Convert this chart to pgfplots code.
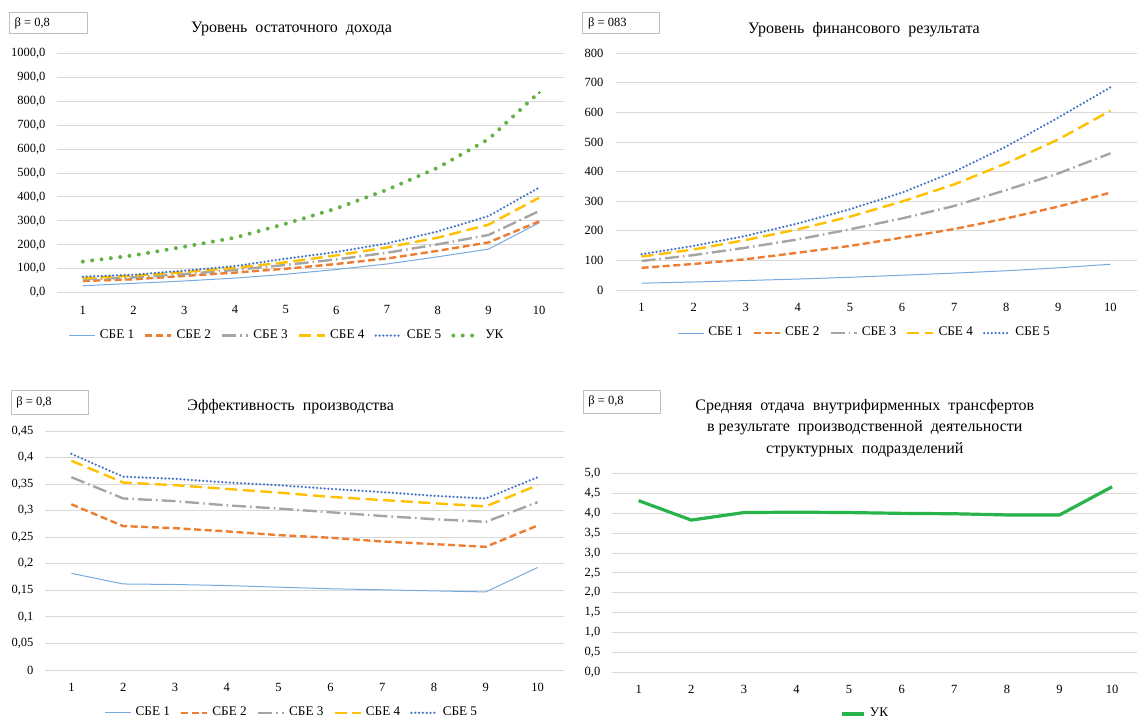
\documentclass[border=0pt]{standalone}
\usepackage{fontspec}
\setmainfont{Liberation Serif}
\usepackage{pgfplots}
\pgfplotsset{compat=1.18}
\definecolor{c1}{RGB}{120,170,225}
\definecolor{c2}{HTML}{ED7D31}
\definecolor{c3}{HTML}{A5A5A5}
\definecolor{c4}{HTML}{FFC000}
\definecolor{c5}{HTML}{4472C4}
\definecolor{cuk}{RGB}{100,178,70}
\definecolor{cuk2}{RGB}{40,180,75}
\definecolor{gridc}{HTML}{D9D9D9}
\definecolor{boxc}{HTML}{BFBFBF}
\newcommand{\sm}{\fontsize{6.25}{7.5}\selectfont}
\newcommand{\lgf}{\fontsize{6.6}{7.5}\selectfont}
\newcommand{\tf}{\fontsize{8}{9.6}\selectfont}
\pgfplotsset{
  base/.style={
    scale only axis,
    anchor=south west,
    xmin=0.5, xmax=10.5,
    xtick={1,2,3,4,5,6,7,8,9,10},
    axis line style={draw=none},
    major tick length=0pt,
    ymajorgrids,
    grid style={gridc, line width=0.5pt},
    tick label style={font=\sm},
    xticklabel style={yshift=-3pt},
    yticklabel style={xshift=-2.5pt},
    /pgf/number format/assume math mode=true,
    legend style={draw=none, fill=none, legend columns=-1, anchor=center, font=\lgf,
      /tikz/every even column/.append style={column sep=3pt}},
    legend image code/.code={\draw[##1] (0pt,0pt) -- (13pt,0pt);},
    clip=false,
  },
  shortleg/.style={legend image code/.code={\draw[##1] (0pt,0pt) -- (11pt,0pt);}},
  s1/.style={c1, line width=0.5pt},
  s2/.style={c2, line width=1.2pt, dash pattern=on 3.5pt off 1.8pt},
  s3/.style={c3, line width=1.2pt, dash pattern=on 7pt off 2pt on 0.8pt off 2pt},
  s4/.style={c4, line width=1.2pt, dash pattern=on 6pt off 2.8pt},
  s5/.style={c5, line width=1.25pt, line cap=round, dash pattern=on 0pt off 1.9pt},
  suk/.style={cuk, line width=2pt, line cap=round, dash pattern=on 0pt off 4.7pt},
}
\begin{document}
\begin{tikzpicture}
\useasboundingbox (0,0) rectangle (568.5pt,360pt);

% ---------- Chart 1 ----------
\draw[boxc, line width=0.5pt] (4.65pt,343.15pt) rectangle (43.65pt,353.65pt);
\node[anchor=west, font=\sm, inner sep=0pt] at (7.1pt,348.4pt) {β = 0,8};
\node[font=\tf] at (145.75pt,345.35pt) {Уровень \ остаточного \ дохода};
\begin{axis}[base, at={(28.75pt,213.65pt)}, width=253.5pt, height=119.7pt,
  ymin=0, ymax=1000, ytick={0,100,...,1000},
  yticklabel style={/pgf/number format/.cd, fixed, fixed zerofill, precision=1, use comma, 1000 sep={}},
  legend style={at={(0.455,-0.179)}}]
\addplot[s1] coordinates {(1,29)(2,39)(3,49)(4,61)(5,77)(6,97)(7,120)(8,150)(9,182)(10,292)};
\addplot[s2] coordinates {(1,49)(2,56)(3,70)(4,84)(5,100)(6,120)(7,143)(8,175)(9,210)(10,298)};
\addplot[s3] coordinates {(1,56)(2,64)(3,78)(4,95)(5,116)(6,139)(7,167)(8,202)(9,241)(10,341)};
\addplot[s4] coordinates {(1,60)(2,71)(3,86)(4,104)(5,127)(6,156)(7,189)(8,230)(9,284)(10,397)};
\addplot[s5] coordinates {(1,67)(2,75)(3,92)(4,111)(5,142)(6,170)(7,206)(8,256)(9,320)(10,439)};
\addplot[suk, mark=*, mark indices={10}, mark size=0.5pt, mark options={solid, fill=cuk, draw=none, line width=0pt}] coordinates {(1,130)(2,156)(3,192)(4,230)(5,288)(6,352)(7,430)(8,522)(9,641)(10,837)};
\legend{СБЕ 1,СБЕ 2,СБЕ 3,СБЕ 4,СБЕ 5,УК}
\end{axis}

% ---------- Chart 2 ----------
\draw[boxc, line width=0.5pt] (291.35pt,343.15pt) rectangle (329.85pt,353.85pt);
\node[anchor=west, font=\sm, inner sep=0pt] at (293.85pt,348.5pt) {β = 083};
\node[font=\tf] at (432pt,345.35pt) {Уровень \ финансового \ результата};
\begin{axis}[base, at={(307.75pt,215pt)}, width=260.5pt, height=118.35pt,
  ymin=0, ymax=800, ytick={0,100,...,800},
  legend style={at={(0.48,-0.182)}}]
\addplot[s1] coordinates {(1,23)(2,27)(3,32)(4,37)(5,43)(6,50)(7,57)(8,65)(9,75)(10,87)};
\addplot[s2] coordinates {(1,75)(2,88)(3,104)(4,126)(5,149)(6,177)(7,206)(8,242)(9,282)(10,329)};
\addplot[s3] coordinates {(1,98)(2,118)(3,143)(4,171)(5,205)(6,242)(7,284)(8,338)(9,394)(10,462)};
\addplot[s4] coordinates {(1,113)(2,137)(3,169)(4,205)(5,248)(6,299)(7,357)(8,428)(9,509)(10,606)};
\addplot[s5] coordinates {(1,121)(2,149)(3,183)(4,225)(5,273)(6,329)(7,400)(8,485)(9,583)(10,685)};
\legend{СБЕ 1,СБЕ 2,СБЕ 3,СБЕ 4,СБЕ 5}
\end{axis}

% ---------- Chart 3 ----------
\draw[boxc, line width=0.5pt] (5.5pt,152.85pt) rectangle (44pt,164.65pt);
\node[anchor=west, font=\sm, inner sep=0pt] at (8pt,158.75pt) {β = 0,8};
\node[font=\tf] at (145.35pt,156.65pt) {Эффективность \ производства};
\begin{axis}[base, at={(22.75pt,25pt)}, width=259pt, height=119.5pt,
  ymin=0, ymax=0.45, ytick={0,0.05,0.1,0.15,0.2,0.25,0.3,0.35,0.4,0.45},
  yticklabel style={/pgf/number format/.cd, fixed, precision=2, use comma},
  legend style={at={(0.4776,-0.179)}}]
\addplot[s1] coordinates {(1,0.182)(2,0.162)(3,0.161)(4,0.159)(5,0.156)(6,0.153)(7,0.151)(8,0.149)(9,0.147)(10,0.193)};
\addplot[s2] coordinates {(1,0.312)(2,0.271)(3,0.267)(4,0.261)(5,0.254)(6,0.249)(7,0.242)(8,0.237)(9,0.232)(10,0.272)};
\addplot[s3] coordinates {(1,0.363)(2,0.323)(3,0.318)(4,0.310)(5,0.304)(6,0.297)(7,0.290)(8,0.284)(9,0.279)(10,0.316)};
\addplot[s4] coordinates {(1,0.394)(2,0.353)(3,0.348)(4,0.341)(5,0.334)(6,0.326)(7,0.320)(8,0.314)(9,0.308)(10,0.348)};
\addplot[s5] coordinates {(1,0.407)(2,0.364)(3,0.360)(4,0.353)(5,0.348)(6,0.341)(7,0.335)(8,0.328)(9,0.323)(10,0.363)};
\legend{СБЕ 1,СБЕ 2,СБЕ 3,СБЕ 4,СБЕ 5}
\end{axis}

% ---------- Chart 4 ----------
\draw[boxc, line width=0.5pt] (291.5pt,153.35pt) rectangle (330pt,165pt);
\node[anchor=west, font=\sm, inner sep=0pt] at (294pt,159.2pt) {β = 0,8};
\node[font=\tf] at (432.4pt,156.65pt) {Средняя \ отдача \ внутрифирменных \ трансфертов};
\node[font=\tf] at (432.4pt,146.15pt) {в результате \ производственной \ деятельности};
\node[font=\tf] at (432.4pt,135.35pt) {структурных \ подразделений};
\begin{axis}[base, shortleg, at={(306.2pt,24pt)}, width=263pt, height=99.15pt,
  ymin=0, ymax=5, ytick={0,0.5,1,1.5,2,2.5,3,3.5,4,4.5,5},
  yticklabel style={/pgf/number format/.cd, fixed, fixed zerofill, precision=1, use comma},
  legend style={at={(0.483,-0.212)}}]
\addplot[cuk2, line width=1.6pt] coordinates {(1,4.32)(2,3.83)(3,4.02)(4,4.03)(5,4.02)(6,4.00)(7,3.99)(8,3.96)(9,3.96)(10,4.67)};
\legend{УК}
\end{axis}
\end{tikzpicture}
\end{document}
